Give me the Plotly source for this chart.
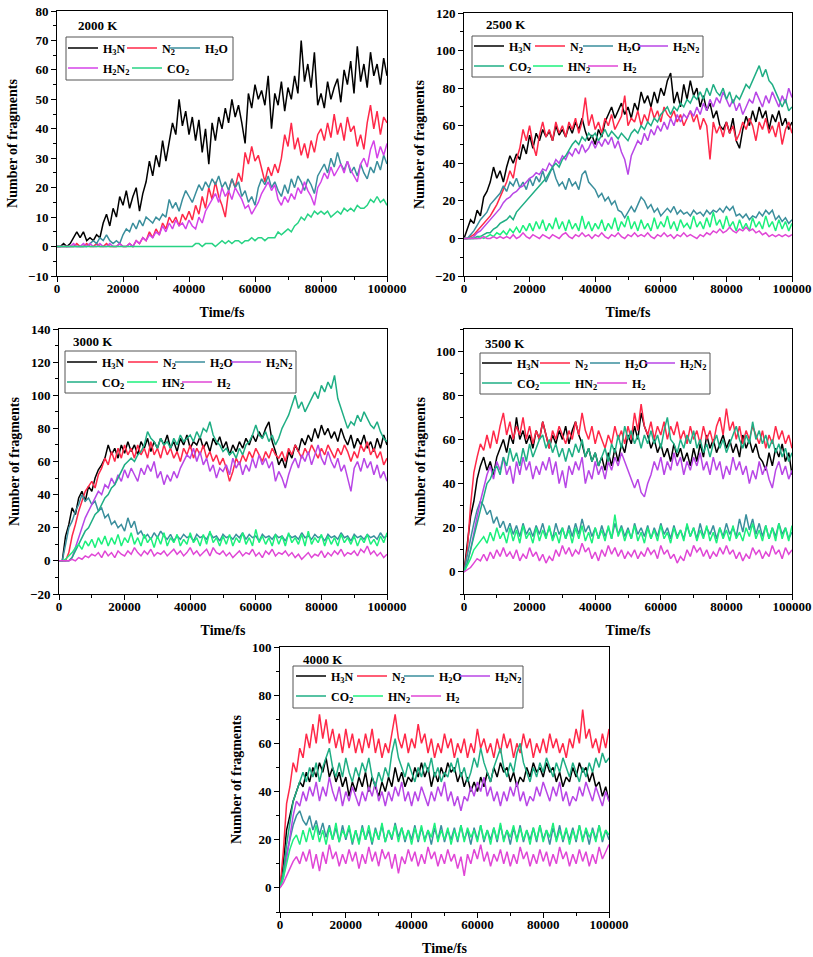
import plotly.graph_objects as go

# ---------------- data (Number of fragments vs Time/fs, sampled every 1000 fs) ----------------
time_fs = list(range(0, 100001, 1000))

panel_titles = ["2000 K", "2500 K", "3000 K", "3500 K", "4000 K"]
species_labels = {
    "H3N": "H<sub>3</sub>N", "N2": "N<sub>2</sub>", "H2O": "H<sub>2</sub>O",
    "H2N2": "H<sub>2</sub>N<sub>2</sub>", "CO2": "CO<sub>2</sub>",
    "HN2": "HN<sub>2</sub>", "H2": "H<sub>2</sub>",
}

# 2000 K
h3n_2000 = [0,0,1,0,1,3,5,3,5,2, 3,2,4,3,8,11,7,13,10,17, 14,19,13,17,20,12,18,22,29,24,
            31,27,36,29,35,42,38,50,41,46, 38,44,36,43,32,40,28,42,36,44, 40,47,42,50,44,48,42,35,52,47,
            55,50,53,48,58,40,52,48,56,46, 54,50,58,52,70,56,62,54,66,48, 52,47,56,50,54,57,49,60,55,63,
            52,68,56,62,54,66,58,62,55,64, 58]
n2_2000 = [0,0,0,0,0,0,1,0,0,1, 0,0,1,0,0,1,0,0,0,1, 0,0,1,0,2,1,3,2,5,3,
           6,4,8,6,10,8,10,7,11,9, 12,9,14,11,17,13,20,16,22,17, 14,10,19,23,20,25,22,32,28,34,
           29,31,26,22,27,24,28,25,30,38, 34,42,33,37,31,35,30,36,32,38, 40,36,42,37,45,38,42,36,44,39,
           41,34,38,33,42,48,40,46,38,44, 42]
h2o_2000 = [0,0,0,0,0,0,0,0,0,0, 1,2,1,3,2,4,2,1,2,1, 4,6,5,8,6,9,7,10,9,8,
            10,9,11,10,16,13,15,12,16,19, 17,15,18,21,19,22,20,23,21,24, 20,22,19,23,20,22,17,19,15,17,
            14,20,23,21,24,20,22,19,17,21, 18,23,20,24,22,19,23,21,18,24, 26,28,25,30,27,32,28,26,29,25,
            27,24,28,25,23,27,25,29,26,31, 28]
h2n2_2000 = [0,0,0,0,0,1,0,0,1,0, 1,0,0,1,0,0,1,0,0,1, 0,0,1,0,2,1,3,2,4,3,
             5,4,7,5,8,6,9,7,8,6, 9,7,6,10,8,12,14,16,18,15, 20,17,19,16,20,18,16,13,14,11,
             13,15,18,20,22,19,21,16,14,17, 15,18,16,20,18,22,19,17,14,20, 22,25,23,27,24,26,28,25,29,26,
             24,22,28,30,27,33,36,30,34,31, 35]
co2_2000 = [0,0,0,0,0,0,0,0,0,0, 0,0,0,0,0,0,0,0,0,0, 0,0,0,0,0,0,0,0,0,0,
            0,0,0,0,0,0,0,0,0,0, 0,0,1,1,0,1,1,1,0,1, 2,1,2,1,2,2,1,2,2,3,
            2,3,3,2,3,3,3,5,4,5, 6,5,7,8,10,9,11,10,12,11, 12,11,12,10,11,12,11,13,12,13,
            12,14,13,13,14,16,15,17,15,16, 14]

# 2500 K
h3n_2500 = [0,5,10,8,15,12,22,25,30,38, 32,36,30,38,44,40,45,42,50,45, 55,48,56,52,58,54,57,52,60,55,
            58,54,60,56,62,58,64,57,52,55, 50,58,54,62,66,70,64,68,72,66, 70,64,72,68,78,72,76,70,78,72,
            80,76,84,88,72,78,70,82,74,84, 76,80,70,76,68,72,64,68,60,58, 62,56,64,52,48,58,65,60,68,62,
            70,64,68,58,66,62,68,60,64,58, 62]
n2_2500 = [0,0,1,2,4,6,8,10,12,15, 18,22,26,30,36,32,42,48,58,52, 60,50,44,55,62,54,58,52,62,56,
           60,54,62,58,64,56,62,75,60,66, 58,62,56,64,60,66,58,62,65,76, 60,64,62,68,60,66,62,70,64,68,
           62,70,66,64,68,62,66,60,64,68, 62,66,58,64,60,42,62,56,60,54, 62,56,60,52,56,62,58,64,60,52,
           62,58,64,56,60,54,62,50,58,62, 56]
h2o_2500 = [0,0,2,4,7,10,12,14,18,20, 22,24,28,25,30,28,32,27,30,26, 32,28,33,30,36,30,34,38,32,28,
            30,26,32,28,30,26,34,36,30,28, 26,22,24,20,22,18,20,15,14,11, 14,17,14,18,22,20,16,18,14,16,
            12,14,16,14,17,13,15,13,14,12, 15,13,14,12,15,13,15,14,16,14, 17,15,17,12,13,11,13,10,12,11,
            14,12,15,13,15,10,12,9,11,8, 10]
h2n2_2500 = [0,0,0,1,3,4,6,8,10,12, 14,16,19,21,22,24,25,27,28,30, 32,33,35,34,37,36,40,38,42,40,
             44,42,46,44,48,45,50,46,48,52, 48,52,49,53,50,54,48,52,46,42, 34,44,48,52,50,56,52,58,55,60,
             57,62,58,64,60,66,62,66,64,68, 65,70,66,72,68,74,70,75,72,78, 74,70,74,68,72,66,70,74,72,78,
             74,70,76,72,78,74,70,76,72,80, 75]
co2_2500 = [0,0,0,0,1,1,2,3,3,5, 6,8,9,10,12,10,14,16,18,20, 22,24,26,28,30,32,35,38,40,38,
            42,44,47,50,52,50,54,52,56,54, 56,52,55,58,54,57,55,53,56,54, 52,56,58,56,60,58,62,60,64,62,
            66,68,70,66,70,68,72,70,74,72, 76,74,78,74,80,76,82,78,76,80, 74,78,72,76,74,78,82,80,84,88,
            92,86,90,84,82,78,74,70,74,68, 70]
hn2_2500 = [0,0,0,0,0,1,0,1,2,1, 3,2,4,2,5,3,6,3,7,4, 8,4,9,5,10,4,8,5,11,5,
            9,4,10,5,8,4,12,5,9,4, 8,5,10,4,8,5,11,4,9,6, 12,5,9,4,10,5,8,4,11,5,
            9,6,12,5,9,4,10,6,8,5, 12,6,9,5,11,6,14,7,10,5, 12,6,9,4,10,5,8,4,11,6,
            9,5,12,6,9,4,10,5,9,4, 8]
h2_2500 = [0,0,0,0,0,0,1,0,0,1, 0,1,0,1,0,2,0,1,3,1, 0,2,1,0,2,1,0,2,1,0,
           2,3,1,0,2,1,3,1,2,0, 2,1,3,1,0,2,1,3,1,0, 2,1,3,1,2,1,3,1,0,2,
           1,3,1,2,0,2,1,3,1,2, 1,0,2,1,3,2,4,3,5,3, 4,6,4,3,5,4,6,4,5,3,
           4,2,3,1,2,1,2,1,2,1, 2]

# 3000 K
h3n_3000 = [0,0,15,22,32,28,38,42,36,45, 42,50,55,58,62,70,64,68,62,70, 65,72,66,70,64,72,68,74,66,72,
            68,74,70,76,68,72,66,74,70,76, 68,72,70,75,68,72,66,74,70,75, 68,72,64,70,66,72,68,74,70,76,
            72,78,74,80,84,72,66,58,62,56, 66,62,70,66,74,70,76,72,80,74, 82,76,80,74,78,72,80,74,70,76,
            68,74,70,76,68,72,66,74,68,76, 70]
n2_3000 = [0,0,0,5,15,22,30,36,42,45, 48,44,52,56,62,58,66,60,68,62, 70,64,68,62,70,64,68,62,72,64,
           68,62,70,64,68,62,66,60,68,64, 70,62,68,64,70,62,66,60,64,58, 62,56,48,54,62,58,64,60,66,62,
           68,64,60,66,62,68,64,62,66,60, 68,64,70,66,62,68,64,70,66,62, 68,64,70,66,62,68,64,70,66,60,
           66,62,70,66,72,64,68,62,66,58, 62]
h2o_3000 = [0,0,10,20,24,30,34,40,36,38, 34,36,30,32,26,28,22,24,20,22, 18,26,20,24,16,18,14,16,13,17,
            14,18,15,13,16,12,15,13,16,14, 15,12,16,14,15,13,17,14,15,12, 16,14,15,13,16,14,17,13,16,14,
            15,12,16,14,15,13,16,14,15,12, 16,14,15,13,17,14,15,13,16,14, 15,12,16,14,15,13,17,14,15,12,
            16,14,15,13,16,14,15,13,17,14, 15]
h2n2_3000 = [0,0,0,0,2,8,14,20,26,30, 34,38,42,40,46,44,50,46,52,48, 55,50,56,52,48,56,52,58,54,60,
             50,54,46,52,48,54,50,56,60,64, 62,68,60,66,58,62,54,58,50,56, 54,58,52,62,56,60,52,58,54,62,
             56,64,58,62,56,60,48,54,50,44, 52,58,62,56,64,60,66,58,64,70, 62,58,66,60,56,62,54,58,50,42,
             56,60,54,62,56,60,52,58,50,54, 48]
co2_3000 = [0,0,0,0,2,6,10,14,18,20, 24,28,30,34,38,40,44,46,50,54, 58,60,62,60,64,66,70,78,74,72,
            68,74,70,72,68,74,70,76,72,74, 76,72,78,74,80,78,84,76,72,70, 66,68,64,66,62,68,64,70,72,76,
            82,76,74,78,72,76,70,74,80,84, 88,94,100,92,96,90,94,98,102,98, 106,102,108,104,112,98,92,86,80,84,
            82,88,84,90,86,82,80,84,78,74, 72]
hn2_3000 = [0,0,1,3,5,8,10,7,12,9, 13,8,14,10,15,9,14,10,16,9, 14,11,17,10,14,9,16,11,14,8,
            15,10,17,9,14,11,16,9,13,10, 17,11,14,9,16,10,18,11,14,9, 15,10,16,9,14,11,17,10,14,9,
            19,11,15,10,14,9,16,10,15,9, 17,11,14,10,16,9,18,10,14,11, 16,9,15,10,14,9,16,11,14,10,
            15,9,14,11,16,10,13,9,15,11, 17]
h2_3000 = [0,0,0,0,1,0,2,1,3,2, 4,3,5,2,6,3,5,2,6,4, 3,6,4,8,5,3,6,4,7,3,
           5,4,6,3,5,7,4,6,3,5, 8,4,6,3,5,7,3,8,5,4, 6,3,5,2,4,6,3,5,4,7,
           3,5,2,6,4,7,3,5,4,6, 3,5,2,4,1,3,5,2,4,3, 6,2,5,3,6,4,7,3,5,4,
           6,3,7,5,9,4,6,3,5,2, 4]

# 3500 K
h3n_3500 = [0,12,25,32,42,48,52,46,50,44, 52,56,60,54,62,58,70,60,64,58, 62,56,64,60,68,62,56,62,58,64,
            60,66,58,64,68,62,58,52,56,50, 54,48,52,46,54,48,56,50,58,54, 62,58,66,60,72,66,62,56,60,54,
            58,52,56,50,58,52,56,50,54,48, 56,50,58,52,62,56,60,54,58,62, 56,60,54,58,52,62,56,60,54,58,
            52,50,46,54,48,56,52,58,50,54, 44]
n2_3500 = [0,10,30,45,52,58,55,62,56,64, 58,66,72,62,68,60,66,62,70,60, 66,58,64,60,68,62,56,64,60,66,
           62,58,64,60,68,62,72,64,60,66, 58,64,60,56,62,58,66,60,64,58, 66,60,72,64,76,66,62,68,60,66,
           62,68,60,66,62,68,60,64,58,66, 60,64,58,66,60,64,58,66,70,62, 74,64,68,60,66,58,64,60,66,62,
           58,64,56,62,58,66,60,64,58,62, 56]
h2o_3500 = [0,8,15,22,28,32,30,26,28,22, 25,20,23,18,22,17,21,16,22,17, 20,16,21,17,22,16,20,15,22,17,
            20,15,21,16,22,17,24,18,21,16, 20,15,21,16,20,15,22,17,21,16, 20,15,22,17,20,16,21,15,20,16,
            22,17,20,15,21,16,19,15,21,16, 20,15,22,16,20,17,21,15,20,16, 22,17,20,16,24,18,26,19,24,17,
            22,16,21,15,20,16,22,17,20,15, 18]
h2n2_3500 = [0,4,10,18,25,32,38,44,48,42, 50,46,52,44,48,40,50,44,52,46, 50,42,48,44,50,46,52,44,50,40,
             46,38,48,44,50,46,52,40,46,42, 50,44,48,42,50,46,52,48,54,50, 46,42,38,42,36,34,40,44,50,46,
             52,44,50,46,54,48,52,44,50,46, 52,48,54,46,50,44,52,46,50,42, 48,44,52,46,50,44,48,40,46,42,
             50,44,48,42,38,46,50,44,48,42, 46]
co2_3500 = [0,4,10,16,22,28,34,40,42,46, 48,44,52,48,56,50,54,48,56,50, 58,52,56,60,62,56,60,54,58,52,
            56,50,56,52,58,54,60,52,56,50, 54,48,52,56,50,58,54,62,56,66, 60,64,58,62,56,62,58,64,58,62,
            56,64,70,60,58,54,60,56,62,58, 64,56,60,54,58,52,58,62,56,60, 54,58,62,66,60,56,62,58,68,60,
            64,58,62,56,60,54,58,52,56,50, 54]
hn2_3500 = [0,3,6,10,12,14,16,13,18,14, 20,15,18,13,20,14,19,13,21,15, 18,13,20,14,19,15,21,14,18,13,
            20,15,19,13,20,15,21,14,18,13, 20,15,19,14,21,15,26,16,20,14, 19,15,21,14,18,13,20,15,19,14,
            21,15,18,13,20,15,19,14,22,16, 20,14,19,15,21,14,18,13,20,15, 19,14,21,15,18,14,20,16,22,15,
            19,14,21,15,20,14,22,15,20,14, 21]
h2_3500 = [0,1,2,4,6,5,8,5,9,6, 10,7,11,7,9,6,10,5,8,6, 11,7,9,5,8,4,7,5,10,7,
           12,8,11,7,10,8,13,9,11,6, 9,5,10,7,12,8,11,7,10,6, 9,7,10,6,9,7,11,8,10,6,
           12,8,10,6,8,4,7,5,10,7, 12,9,11,7,10,6,9,7,11,8, 12,8,10,6,9,5,8,6,11,8,
           10,6,9,7,12,8,10,6,11,8, 10]

# 4000 K
h3n_4000 = [0,10,24,30,36,40,44,42,48,44, 50,46,52,48,54,46,50,44,48,42, 46,38,44,40,46,42,48,40,46,42,
            38,44,40,46,42,50,44,48,42,46, 44,50,46,52,46,50,42,48,44,50, 46,52,48,50,44,48,42,46,40,44,
            40,46,42,48,44,50,46,52,48,50, 44,48,42,46,44,50,46,52,48,50, 46,52,48,50,44,48,42,46,44,50,
            46,52,48,50,44,48,42,44,38,42, 36]
n2_4000 = [0,15,35,42,52,48,58,54,64,58, 68,60,72,62,70,60,66,58,64,56, 66,58,64,56,62,56,64,58,66,56,
           62,54,60,56,64,72,62,58,64,56, 62,58,68,60,64,56,62,54,60,56, 64,58,62,54,60,56,62,54,60,56,
           66,58,62,56,60,54,62,56,64,58, 62,54,60,56,64,58,62,54,60,56, 62,56,64,58,62,56,60,54,62,58,
           66,60,74,62,66,58,62,56,64,58, 66]
h2o_4000 = [0,6,14,20,26,30,32,28,26,30, 24,28,22,27,21,26,20,25,19,26, 20,25,18,24,19,26,20,24,18,25,
            20,26,19,24,20,27,21,25,19,24, 20,26,19,25,20,24,18,25,20,26, 19,24,20,25,19,26,20,24,18,25,
            20,26,19,24,20,25,19,26,20,24, 18,25,20,26,19,24,20,25,19,26, 20,24,18,25,20,26,19,24,20,25,
            19,26,20,24,18,25,20,26,19,24, 20]
h2n2_4000 = [0,4,12,22,30,36,34,40,36,42, 38,44,36,42,38,46,40,36,42,34, 40,36,42,38,34,40,36,42,38,44,
             36,40,34,40,36,42,38,44,36,40, 34,40,36,42,38,34,40,36,42,38, 44,36,40,34,38,32,38,36,42,38,
             44,40,46,38,42,36,40,34,40,36, 42,38,44,36,40,34,38,36,42,38, 44,40,36,42,38,44,36,40,34,38,
             36,42,38,44,40,36,42,38,34,40, 36]
co2_4000 = [0,6,18,28,36,40,44,48,44,50, 46,52,44,50,54,58,50,46,52,46, 54,48,44,50,46,52,48,54,46,42,
            48,44,50,46,56,62,54,50,46,52, 48,44,50,46,52,48,54,46,50,44, 48,46,52,48,54,46,50,44,48,54,
            50,58,52,48,44,50,54,58,50,46, 52,48,56,60,52,48,44,50,46,52, 48,54,50,46,52,48,54,50,46,52,
            48,44,50,46,52,48,54,50,56,52, 54]
hn2_4000 = [0,4,10,16,20,22,18,24,19,25, 20,26,19,24,18,25,20,27,19,24, 21,26,19,24,18,25,20,26,19,24,
            20,27,19,24,21,26,19,25,20,24, 18,25,20,26,19,24,21,27,19,24, 20,25,18,24,20,26,19,25,21,24,
            19,26,20,24,18,25,20,27,19,24, 21,26,19,25,20,24,18,25,20,26, 19,24,21,27,19,24,20,25,18,24,
            20,26,19,25,21,24,19,26,20,24, 22]
h2_4000 = [0,2,5,8,11,13,10,15,11,16, 8,14,7,15,10,18,12,15,9,14, 10,16,11,15,8,14,10,17,11,15,
           9,16,12,15,8,14,6,13,10,16, 11,15,9,14,10,17,12,15,9,14, 10,16,11,14,8,13,5,14,10,16,
           12,18,11,15,9,14,11,16,10,15, 9,14,10,17,12,15,9,14,10,16, 11,15,9,14,10,17,12,15,9,14,
           10,16,11,15,9,14,10,17,12,15, 18]

panel_series = [
    {"H3N": h3n_2000, "N2": n2_2000, "H2O": h2o_2000, "H2N2": h2n2_2000, "CO2": co2_2000},
    {"H3N": h3n_2500, "N2": n2_2500, "H2O": h2o_2500, "H2N2": h2n2_2500, "CO2": co2_2500, "HN2": hn2_2500, "H2": h2_2500},
    {"H3N": h3n_3000, "N2": n2_3000, "H2O": h2o_3000, "H2N2": h2n2_3000, "CO2": co2_3000, "HN2": hn2_3000, "H2": h2_3000},
    {"H3N": h3n_3500, "N2": n2_3500, "H2O": h2o_3500, "H2N2": h2n2_3500, "CO2": co2_3500, "HN2": hn2_3500, "H2": h2_3500},
    {"H3N": h3n_4000, "N2": n2_4000, "H2O": h2o_4000, "H2N2": h2n2_4000, "CO2": co2_4000, "HN2": hn2_4000, "H2": h2_4000},
]
y_ranges = [(-10, 80), (-20, 120), (-20, 140), (-10, 110), (-10, 100)]
y_dticks = [10, 20, 20, 20, 20]

# ---------------- style / layout (pixel positions) ----------------
W, H = 813, 957
FONT = "Liberation Serif"
colors = {"H3N": "#000000", "N2": "#ff2848", "H2O": "#3a8e9c", "H2N2": "#b846e6",
          "CO2": "#1fae84", "HN2": "#1cf07c", "H2": "#e046d6"}
colors_2000 = dict(colors, H2N2="#d443e8", CO2="#27d384")

# plot areas: (left, right, top, bottom)
boxes = [(57, 387, 11, 276), (464, 792, 13, 276), (59, 387, 329, 594),
         (464, 792, 329, 594), (280, 609, 647, 912)]
legend_boxes = [(66, 233, 37, 80), (472, 703, 36, 77), (65, 296, 351, 393),
                (480, 710, 353, 394), (293, 523, 666, 708)]
# legend rows: (row centre y, [(species, x where the sample line starts)])
legend_layout = [
    [(48, [("H3N", 68), ("N2", 127), ("H2O", 170)]), (68, [("H2N2", 68), ("CO2", 132)])],
    [(46, [("H3N", 474), ("N2", 535), ("H2O", 583), ("H2N2", 638)]), (66, [("CO2", 474), ("HN2", 533), ("H2", 588)])],
    [(362, [("H3N", 67), ("N2", 128), ("H2O", 175), ("H2N2", 231)]), (382, [("CO2", 67), ("HN2", 127), ("H2", 182)])],
    [(363, [("H3N", 482), ("N2", 540), ("H2O", 590), ("H2N2", 645)]), (383, [("CO2", 482), ("HN2", 540), ("H2", 597)])],
    [(676, [("H3N", 296), ("N2", 357), ("H2O", 404), ("H2N2", 460)]), (696, [("CO2", 296), ("HN2", 353), ("H2", 411)])],
]
label_pos = [(76, 26), (484, 25), (71, 341), (483, 343), (301, 659)]


def px(x):
    return x / W


def py(y):
    return 1 - y / H


fig = go.Figure()
layout = dict(width=W, height=H, margin=dict(l=0, r=0, t=0, b=0),
              plot_bgcolor="white", paper_bgcolor="white", template="none",
              font=dict(family=FONT, color="black", size=13, weight="bold"),
              shapes=[], annotations=[])

legend_count = 0
for p in range(5):
    sfx = "" if p == 0 else str(p + 1)
    cmap = colors_2000 if p == 0 else colors
    # one legend per entry so that the entries sit where the reference has them
    entry_legend = {}
    for row_y, entries in legend_layout[p]:
        for sp, x0 in entries:
            lname = "legend" if legend_count == 0 else "legend%d" % (legend_count + 1)
            legend_count += 1
            entry_legend[sp] = lname
            layout[lname] = dict(
                orientation="h", x=px(x0 - 5), xanchor="left", y=py(row_y), yanchor="middle",
                bgcolor="rgba(0,0,0,0)", borderwidth=0, itemwidth=30,
                font=dict(family=FONT, size=12, color="black", weight="bold"),
            )
    for sp, vals in panel_series[p].items():
        fig.add_trace(go.Scatter(
            x=time_fs, y=vals, mode="lines", name=species_labels[sp],
            line=dict(color=cmap[sp], width=1.5), legend=entry_legend[sp],
            xaxis="x" + sfx, yaxis="y" + sfx, showlegend=True,
        ))
    l, rgt, t, b = boxes[p]
    common = dict(showline=True, linecolor="black", linewidth=1, mirror=True, ticks="outside",
                  ticklen=5, tickwidth=1, tickcolor="black", showgrid=False, zeroline=False,
                  automargin=False,
                  tickfont=dict(family=FONT, size=13, color="black", weight="bold"))
    layout["xaxis" + sfx] = dict(
        common, domain=[px(l), px(rgt)], anchor="y" + sfx, range=[0, 100000],
        tick0=0, dtick=20000, tickformat="d", ticklabelstandoff=-5,
        minor=dict(ticks="outside", ticklen=3, tickcolor="black", dtick=10000),
        title=dict(text="Time/fs", standoff=12, font=dict(family=FONT, size=14, color="black", weight="bold")),
    )
    lo, hi = y_ranges[p]
    layout["yaxis" + sfx] = dict(
        common, domain=[py(b), py(t)], anchor="x" + sfx, range=[lo, hi],
        tick0=0, dtick=y_dticks[p],
        minor=dict(ticks="outside", ticklen=3, tickcolor="black", dtick=y_dticks[p] / 2),
        title=dict(text="Number of fragments", standoff=7,
                   font=dict(family=FONT, size=14, color="black", weight="bold")),
    )
    lb = legend_boxes[p]
    layout["shapes"].append(dict(type="rect", xref="paper", yref="paper",
                                 x0=px(lb[0]), x1=px(lb[1]), y0=py(lb[3]), y1=py(lb[2]),
                                 line=dict(color="#555555", width=1)))
    lx, ly = label_pos[p]
    layout["annotations"].append(dict(text=panel_titles[p], xref="paper", yref="paper",
                                      x=px(lx), y=py(ly), xanchor="left", yanchor="middle",
                                      showarrow=False,
                                      font=dict(family=FONT, size=13, color="black", weight="bold")))

fig.update_layout(**layout)
fig.write_html("out.html", config={"displayModeBar": False},
               post_script="document.body.style.margin='0px';")
